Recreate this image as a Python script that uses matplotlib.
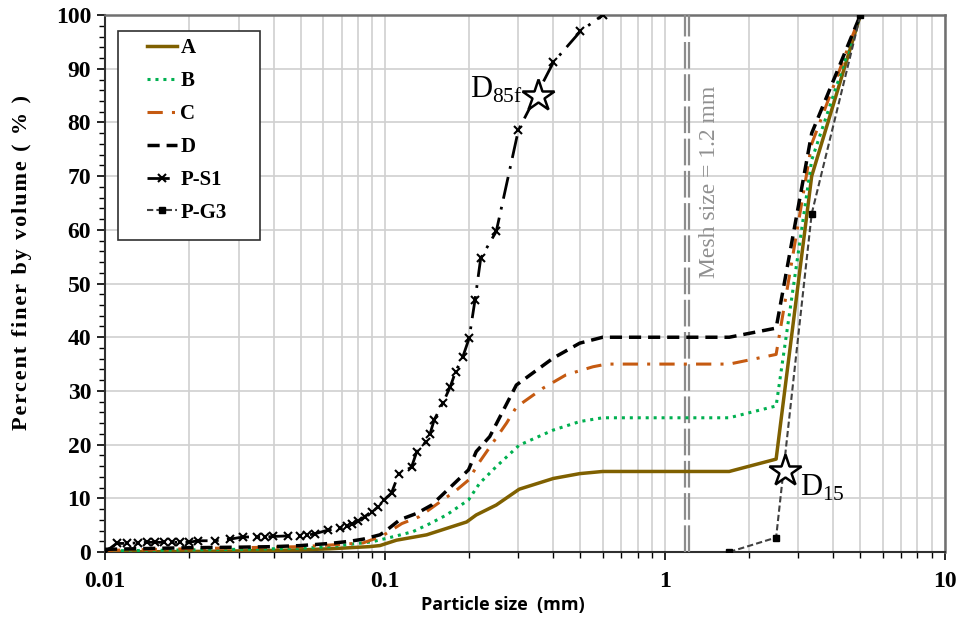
import numpy as np
import matplotlib
matplotlib.use('Agg')
import matplotlib.pyplot as plt
from matplotlib.patches import Rectangle
from matplotlib.ticker import MultipleLocator, LogLocator, NullFormatter, FixedLocator, FixedFormatter

# grading curves, particle size (mm) vs percent finer by volume
A_x = [0.01, 0.02, 0.03, 0.04, 0.05, 0.0637, 0.088, 0.096, 0.11, 0.141, 0.196, 0.212, 0.25, 0.302, 0.4, 0.497, 0.6, 1.7, 2.5, 3.35, 5]
A_y = [0.0, 0.1, 0.2, 0.3, 0.4, 0.6, 1.0, 1.2, 2.2, 3.2, 5.6, 6.9, 8.75, 11.7, 13.7, 14.6, 15, 15, 17.3, 70, 100]

B_x = [0.01, 0.02, 0.03, 0.04, 0.05, 0.0637, 0.09, 0.11, 0.126, 0.145, 0.166, 0.199, 0.218, 0.25, 0.302, 0.399, 0.497, 0.6, 1.7, 2.5, 3.35, 5]
B_y = [0.2, 0.4, 0.5, 0.6, 0.7, 1.0, 1.9, 3.0, 3.8, 5.3, 6.9, 9.7, 12.8, 15.9, 19.9, 22.7, 24.3, 25, 25, 27.2, 73, 100]

C_x = [0.01, 0.02, 0.03, 0.04, 0.05, 0.0637, 0.0837, 0.098, 0.115, 0.133, 0.18, 0.199, 0.216, 0.272, 0.295, 0.367, 0.444, 0.554, 0.62, 1.7, 2.5, 3.35, 5]
C_y = [0.3, 0.6, 0.8, 0.9, 1.0, 1.3, 1.7, 3.0, 5.3, 6.6, 11.5, 13.4, 16.5, 24, 27, 30.5, 33, 34.5, 35, 35, 36.8, 76, 100]

D_x = [0.01, 0.02, 0.03, 0.04, 0.05, 0.0637, 0.075, 0.0837, 0.096, 0.1, 0.113, 0.13, 0.147, 0.199, 0.212, 0.237, 0.295, 0.399, 0.497, 0.6, 1.7, 2.5, 3.35, 5]
D_y = [0.5, 0.8, 0.9, 1.0, 1.2, 1.6, 2.0, 2.4, 3.2, 3.8, 6.0, 7.2, 8.75, 15.3, 18.7, 21.5, 31.1, 36.1, 38.9, 40, 40, 41.7, 78, 100]

PS1_x = [0.01, 0.011, 0.012, 0.0131, 0.0141, 0.0151, 0.0162, 0.0173, 0.0185, 0.0199, 0.0215, 0.0247,
         0.0279, 0.0312, 0.0348, 0.0373, 0.0399, 0.0452, 0.0497, 0.0525, 0.0562, 0.0628, 0.069, 0.073,
         0.076, 0.0803, 0.0848, 0.0896, 0.0946, 0.099, 0.1056, 0.112, 0.1245, 0.13, 0.14, 0.145, 0.15,
         0.161, 0.171, 0.179, 0.19, 0.2, 0.21, 0.22, 0.25, 0.3, 0.4, 0.5, 0.6]
PS1_y = [0, 1.6, 1.6, 1.7, 1.8, 1.8, 1.8, 1.8, 1.8, 1.8, 2.1, 2.1,
         2.4, 2.8, 2.8, 2.8, 2.9, 3.0, 3.0, 3.1, 3.4, 4.1, 4.4, 4.8,
         5.2, 5.7, 6.6, 7.5, 8.4, 9.6, 11.0, 14.5, 15.8, 18.7, 20.5, 22.0, 24.6,
         27.7, 30.7, 33.6, 36.4, 39.8, 47.0, 54.7, 59.7, 78.6, 91.2, 97.0, 100]

PG3_x = [1.7, 2.5, 3.35, 5]
PG3_y = [0, 2.7, 63, 100]

# characteristic sizes
D85f = (0.352, 85)
D15 = (2.68, 15)
mesh = 1.2

serif = ['Liberation Serif', 'DejaVu Serif']

fig = plt.figure(figsize=(9.59, 6.28), dpi=100)
ax = fig.add_axes([0.1095, 0.121, 0.8755, 0.855])

ax.plot(A_x, A_y, color='#7F6000', lw=2.5, label='A', zorder=4)
ax.plot(B_x, B_y, color='#00B050', lw=2.2, ls=(0, (1, 1.6)), label='B', zorder=4)
ax.plot(C_x, C_y, color='#C55A11', lw=2.2, ls=(0, (5, 3, 1, 3)), label='C', zorder=4)
ax.plot(D_x, D_y, color='black', lw=2.5, ls=(0, (3.5, 2)), label='D', zorder=4)
ax.plot(PS1_x, PS1_y, color='black', lw=2, ls=(0, (8, 3, 1, 3)), marker='x', ms=6, mew=1.5,
        label='P-S1', zorder=5)
ax.plot(PG3_x, PG3_y, color='#404040', lw=1.5, ls=(0, (3, 1.5)), marker='s', ms=5,
        mfc='black', mec='black', label='P-G3', zorder=5)

# mesh size line (two thin dashed lines side by side)
for f in (1 / 1.02, 1.02):
    ax.axvline(mesh * f, color='#8c8c8c', lw=1.6, ls=(0, (12, 2.5)), zorder=3)
ax.text(1.45, 69, 'Mesh size = 1.2 mm', rotation=90, color='#909090', fontsize=17,
        family=serif, ha='center', va='center')

# stars
for pt in (D85f, D15):
    ax.plot(pt[0], pt[1], marker='*', ms=24, mfc='white', mec='black', mew=1.8, zorder=6, ls='none')
ax.text(0.31, 86, r'D$_{\mathregular{85f}}$', fontsize=22, family=serif, ha='right', va='center')
ax.text(3.05, 12, r'D$_{\mathregular{15}}$', fontsize=22, family=serif, ha='left', va='center')

ax.set_xscale('log')
ax.set_xlim(0.01, 10)
ax.set_ylim(0, 100)
ax.yaxis.set_major_locator(MultipleLocator(10))
ax.yaxis.set_minor_locator(MultipleLocator(2))
ax.xaxis.set_major_locator(FixedLocator([0.01, 0.1, 1, 10]))
ax.xaxis.set_major_formatter(FixedFormatter(['0.01', '0.1', '1', '10']))
ax.xaxis.set_minor_locator(LogLocator(base=10, subs=np.arange(2, 10)))
ax.xaxis.set_minor_formatter(NullFormatter())

ax.grid(True, which='major', axis='y', color='#d0d0d0', lw=1.2)
ax.grid(True, which='both', axis='x', color='#d0d0d0', lw=1.2)
ax.set_axisbelow(True)

ax.tick_params(which='major', length=6, width=1.2, direction='out', pad=4)
ax.tick_params(which='minor', length=4, width=1.0, direction='out')
ax.tick_params(axis='x', pad=8)
for lab in ax.get_xticklabels() + ax.get_yticklabels():
    lab.set_fontfamily(serif)
    lab.set_fontweight('bold')
    lab.set_fontsize(17)

for s in ('top', 'right'):
    ax.spines[s].set_color('#707070')
    ax.spines[s].set_linewidth(1.8)
for s in ('left', 'bottom'):
    ax.spines[s].set_color('#303030')
    ax.spines[s].set_linewidth(1.5)

ax.set_xlabel('Particle size  (mm)', fontsize=13, fontweight='bold', family=['Open Sans', 'DejaVu Sans'])
ax.xaxis.set_label_coords(0.474, -0.082)
ylab = '\u200a'.join('Percent finer by volume ( % )')
ax.set_ylabel(ylab, fontsize=16, fontweight='bold', family=serif)
ax.yaxis.set_label_coords(-0.087, 0.54)

# legend: frame drawn separately to get the wide left/right padding
ax.add_patch(Rectangle((0.0155, 0.581), 0.169, 0.389, transform=ax.transAxes, facecolor='white',
                       edgecolor='#303030', lw=1.2, zorder=9))
leg = ax.legend(loc='upper left', bbox_to_anchor=(0.05, 0.957), handlelength=1.45, handletextpad=0.15,
                labelspacing=0.62, borderpad=0, borderaxespad=0, frameon=False,
                prop={'family': serif, 'weight': 'bold', 'size': 15})
leg.set_zorder(10)

fig.savefig('out.png', dpi=100)
